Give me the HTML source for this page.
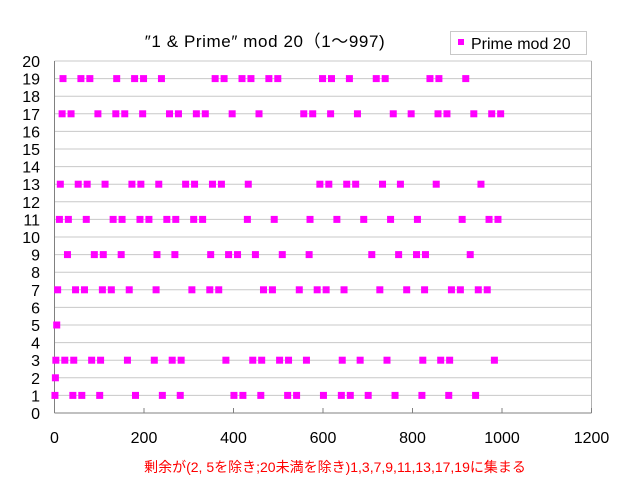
<!DOCTYPE html>
<html><head><meta charset="utf-8"><style>
body{margin:0;background:#fff;}
svg{display:block;font-family:"Liberation Sans","Noto Sans CJK JP",sans-serif;}
</style></head><body>
<svg id="s" width="640" height="480" xmlns="http://www.w3.org/2000/svg">
<text x="265" y="47" font-size="17" letter-spacing="0.6" text-anchor="middle" fill="#000">″1 &amp; Prime″ mod 20（1～997)</text>
<rect x="450.5" y="31.5" width="136" height="23" fill="#fff" stroke="#c8c8c8"/>
<rect x="458" y="39" width="6" height="6" fill="#ff00ff"/>
<text x="471" y="49" font-size="16" fill="#000">Prime mod 20</text>
<g id="grid"></g>
<text x="335" y="472" font-size="14" text-anchor="middle" fill="#ff0000">剰余が(2, 5を除き;20未満を除き)1,3,7,9,11,13,17,19に集まる</text>
</svg>
<script>
var L=54.5,R=591.5,T=61,B=413,s=document.getElementById('s'),g=document.getElementById('grid'),h='';
function X(v){return L+(v/1200)*(R-L);}function Y(v){return B-v*(B-T)/20;}
for(var i=1;i<=20;i++){h+='<line x1="'+L+'" x2="'+R+'" y1="'+Y(i)+'" y2="'+Y(i)+'" stroke="#c8c8c8"/>';}
h+='<line x1="'+R+'" x2="'+R+'" y1="'+T+'" y2="'+B+'" stroke="#b0b0b0"/>';
h+='<line x1="'+L+'" x2="'+L+'" y1="'+T+'" y2="'+B+'" stroke="#808080"/>';
h+='<line x1="'+L+'" x2="'+R+'" y1="'+B+'" y2="'+B+'" stroke="#808080"/>';
for(var i=0;i<=20;i++){h+='<text x="40" y="'+(Y(i)+6)+'" font-size="16" text-anchor="end">'+i+'</text>';}
for(var v=0;v<=1200;v+=200){h+='<line x1="'+X(v)+'" x2="'+X(v)+'" y1="'+B+'" y2="'+(B-5)+'" stroke="#808080"/>';h+='<text x="'+X(v)+'" y="443" font-size="16" text-anchor="middle">'+v+'</text>';}
var pts=[1];for(var n=2;n<=997;n++){var p=true;for(var d=2;d*d<=n;d++)if(n%d==0){p=false;break;}if(p)pts.push(n);}
pts.forEach(function(n){h+='<rect x="'+(X(n)-3.5)+'" y="'+(Y(n%20)-3.5)+'" width="7" height="7" fill="#ff00ff"/>';});
g.innerHTML=h;
</script>
</body></html>
